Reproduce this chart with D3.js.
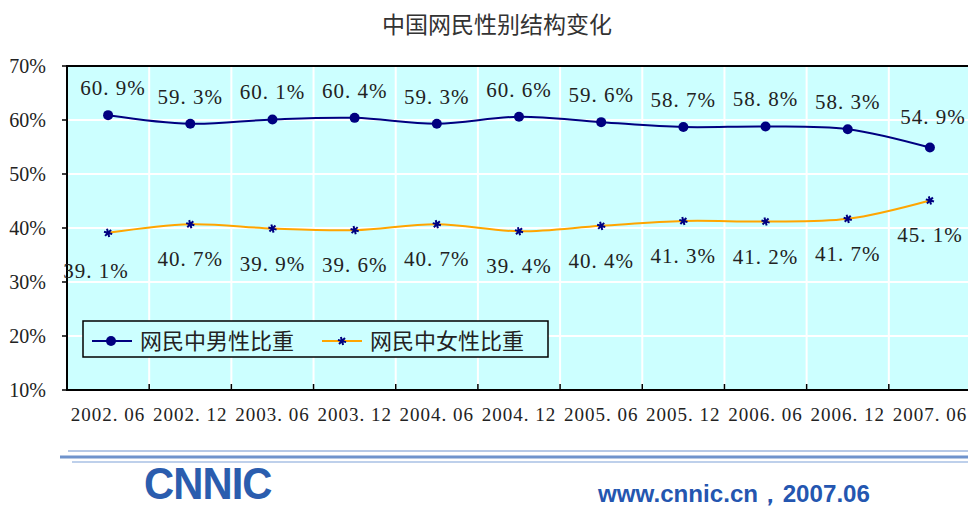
<!DOCTYPE html>
<html><head><meta charset="utf-8">
<script src="https://cdn.jsdelivr.net/npm/d3@7"></script>
<style>body{margin:0;background:#fff;}svg{display:block;}</style>
</head><body>
<script>
const title = "中国网民性别结构变化";
const categories = ["2002.06","2002.12","2003.06","2003.12","2004.06","2004.12","2005.06","2005.12","2006.06","2006.12","2007.06"];
const maleValues = [60.9,59.3,60.1,60.4,59.3,60.6,59.6,58.7,58.8,58.3,54.9];
const femaleValues = [39.1,40.7,39.9,39.6,40.7,39.4,40.4,41.3,41.2,41.7,45.1];
const seriesNames = ["网民中男性比重","网民中女性比重"];
const yTicks = [10,20,30,40,50,60,70];
const footerText = "www.cnnic.cn，2007.06";

const W=968,H=510;
const svg=d3.select("body").append("svg").attr("width",W).attr("height",H);
const m={l:67};
const x=d3.scaleBand().domain(categories).range([m.l,m.l+904]).padding(0);
const y=d3.scaleLinear().domain([10,70]).range([390,66]);

svg.append("text").attr("x",497).attr("y",33).attr("text-anchor","middle")
  .attr("font-family","Noto Sans CJK SC").attr("font-size",23).attr("fill","#333").text(title);

svg.append("rect").attr("x",m.l).attr("y",y(70)).attr("width",W-m.l).attr("height",y(10)-y(70)).attr("fill","#CCFFFF");
svg.append("g").selectAll("line").data(yTicks.slice(1,-1)).join("line")
  .attr("x1",m.l).attr("x2",W).attr("y1",d=>y(d)).attr("y2",d=>y(d)).attr("stroke","#fff").attr("stroke-width",2);
svg.append("g").selectAll("line").data(categories.slice(1)).join("line")
  .attr("x1",d=>x(d)).attr("x2",d=>x(d)).attr("y1",y(70)).attr("y2",y(10)).attr("stroke","#fff").attr("stroke-width",2);
svg.append("line").attr("x1",m.l).attr("x2",W).attr("y1",y(70)).attr("y2",y(70)).attr("stroke","#000").attr("stroke-width",2);
svg.append("line").attr("x1",m.l).attr("x2",W).attr("y1",y(10)).attr("y2",y(10)).attr("stroke","#000").attr("stroke-width",2);
svg.append("line").attr("x1",m.l).attr("x2",m.l).attr("y1",y(70)-1).attr("y2",y(10)+1).attr("stroke","#000").attr("stroke-width",2);

const yg=svg.append("g");
yg.selectAll("line").data(yTicks).join("line").attr("x1",m.l-5).attr("x2",m.l).attr("y1",d=>y(d)).attr("y2",d=>y(d)).attr("stroke","#000").attr("stroke-width",1.5);
yg.selectAll("text").data(yTicks).join("text").attr("x",46).attr("y",d=>y(d)+7).attr("text-anchor","end")
  .attr("font-family","Liberation Serif").attr("font-size",20).attr("fill","#222").text(d=>d+"%");
const xg=svg.append("g");
xg.selectAll("line").data(categories.slice(1)).join("line").attr("x1",d=>x(d)).attr("x2",d=>x(d)).attr("y1",y(10)-6).attr("y2",y(10)).attr("stroke","#000").attr("stroke-width",1.5);
xg.selectAll("text").data(categories).join("text").attr("x",d=>x(d)+x.bandwidth()/2).attr("y",421).attr("text-anchor","middle")
  .attr("font-family","Liberation Serif").attr("font-size",19).attr("letter-spacing",1).attr("fill","#222").text(d=>d.replace(".",". "));

const cx=d=>x(d)+x.bandwidth()/2;
const line=d3.line().x((d,i)=>cx(categories[i])).y(d=>y(d)).curve(d3.curveCatmullRom.alpha(0.5));
svg.append("path").datum(maleValues).attr("d",line).attr("fill","none").attr("stroke","#000080").attr("stroke-width",2);
svg.append("path").datum(femaleValues).attr("d",line).attr("fill","none").attr("stroke","#FFA500").attr("stroke-width",2);
svg.append("g").selectAll("circle").data(maleValues).join("circle").attr("cx",(d,i)=>cx(categories[i])).attr("cy",d=>y(d)).attr("r",5).attr("fill","#000080");
const star=d3.symbol().type(d3.symbolAsterisk).size(50);
svg.append("g").selectAll("path").data(femaleValues).join("path").attr("d",star)
  .attr("transform",(d,i)=>`translate(${cx(categories[i])},${y(d)}) rotate(45)`).attr("fill","none").attr("stroke","#000080").attr("stroke-width",2);

const fmt=d=>{const s=d.toFixed(1).split(".");return s[0]+". "+s[1]+"%";};
const lab={"font-family":"Liberation Serif","font-size":21,"fill":"#222","letter-spacing":1};
const mg=svg.append("g").selectAll("text").data(maleValues).join("text")
  .attr("x",(d,i)=>cx(categories[i])+(i==10?3:i==0?5:0)).attr("y",(d,i)=>y(d)-20-(i==10?4:0)).attr("text-anchor","middle").text(fmt);
const fg=svg.append("g").selectAll("text").data(femaleValues).join("text")
  .attr("x",(d,i)=>cx(categories[i])+(i==0?-12:0)).attr("y",(d,i)=>y(d)+42+(i==0?3:0)).attr("text-anchor","middle").text(fmt);
[mg,fg].forEach(s=>{for(const k in lab)s.attr(k,lab[k]);});

const lg=svg.append("g");
lg.append("rect").attr("x",83).attr("y",321).attr("width",465).attr("height",36).attr("fill","#CCFFFF").attr("stroke","#000").attr("stroke-width",1.5);
lg.append("line").attr("x1",92).attr("x2",132).attr("y1",341).attr("y2",341).attr("stroke","#000080").attr("stroke-width",2);
lg.append("circle").attr("cx",111).attr("cy",341).attr("r",5).attr("fill","#000080");
lg.append("text").attr("x",140).attr("y",349).attr("font-family","Noto Sans CJK SC").attr("font-size",22).attr("fill","#222").text(seriesNames[0]);
lg.append("line").attr("x1",322).attr("x2",362).attr("y1",341).attr("y2",341).attr("stroke","#FFA500").attr("stroke-width",2);
lg.append("path").attr("d",star).attr("transform","translate(342,341) rotate(45)").attr("fill","none").attr("stroke","#000080").attr("stroke-width",2);
lg.append("text").attr("x",370).attr("y",349).attr("font-family","Noto Sans CJK SC").attr("font-size",22).attr("fill","#222").text(seriesNames[1]);

svg.append("line").attr("x1",68).attr("x2",W).attr("y1",451).attr("y2",451).attr("stroke","#B5C8E6").attr("stroke-width",2);
svg.append("line").attr("x1",60).attr("x2",W).attr("y1",457).attr("y2",457).attr("stroke","#6F93CC").attr("stroke-width",3);
svg.append("line").attr("x1",72).attr("x2",W).attr("y1",462).attr("y2",462).attr("stroke","#A9C0E4").attr("stroke-width",1.5);
svg.append("text").attr("transform","translate(144,499) scale(0.95,1)").attr("font-family","Liberation Sans").attr("font-weight","bold")
  .attr("font-size",44).attr("letter-spacing",-1).attr("fill","#2B5DAE").text("CNNIC");
svg.append("text").attr("transform","translate(598,502) scale(1.05,1)").attr("font-family","Liberation Sans").attr("font-weight","bold").attr("font-size",23)
  .attr("fill","#2456B0").text(footerText);
</script>
</body></html>
